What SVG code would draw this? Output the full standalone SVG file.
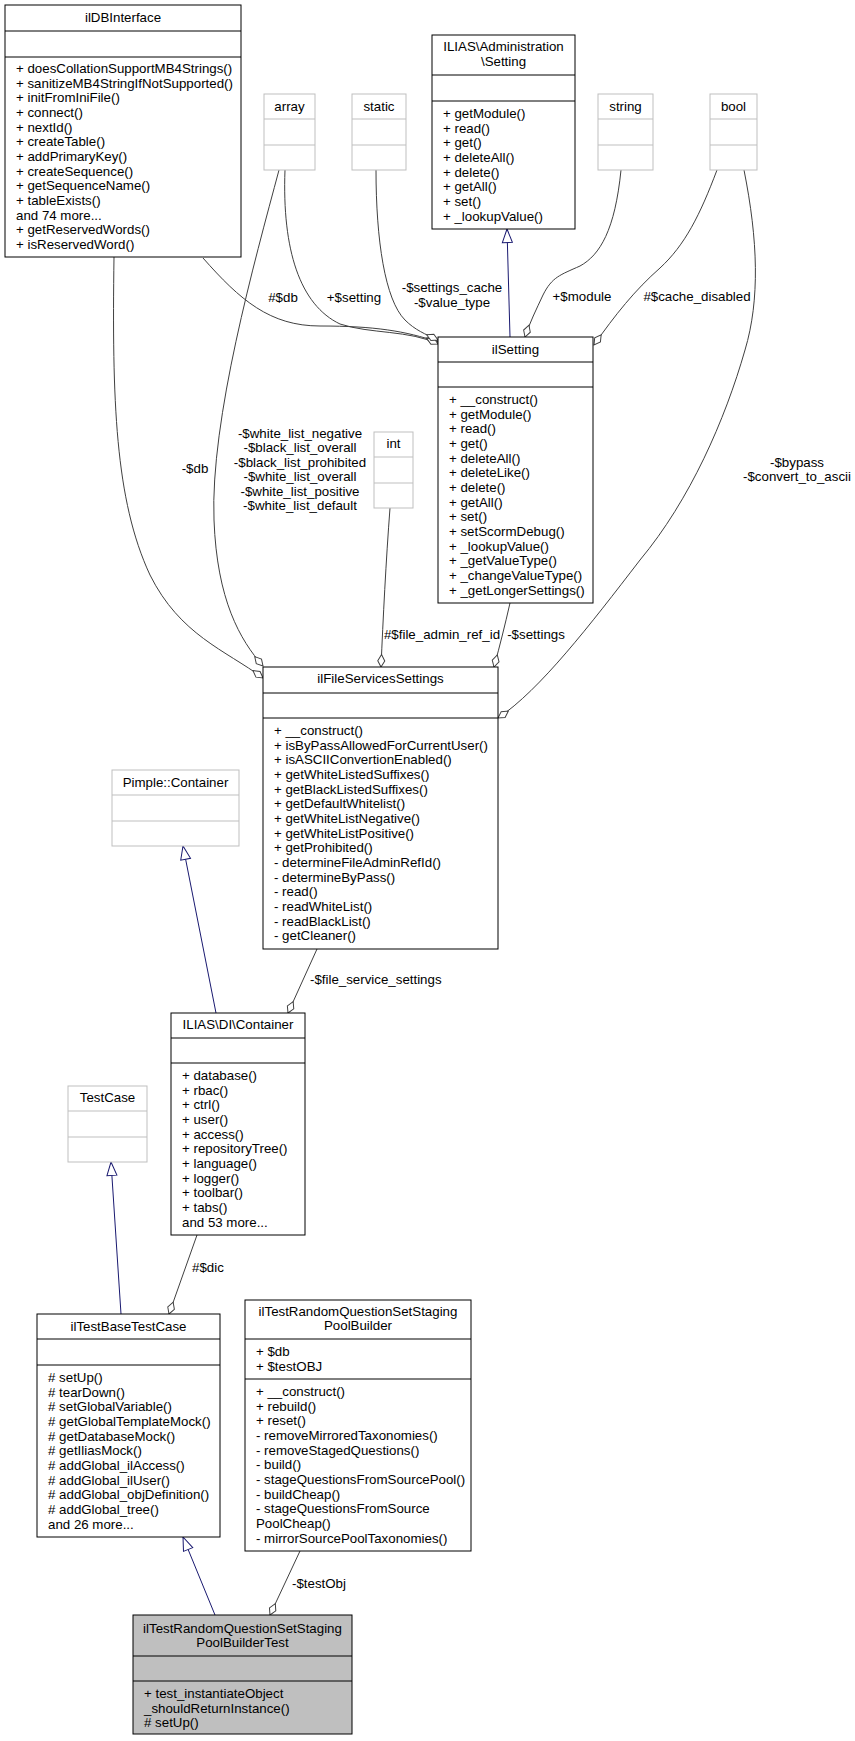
<svg xmlns="http://www.w3.org/2000/svg" width="855" height="1741" viewBox="0 0 855 1741">
<style>
text{font-family:"Liberation Sans",Arial,Helvetica,sans-serif;font-size:13.3px;fill:#000}
.c{text-anchor:middle}
.box{fill:#fff;stroke:#000;stroke-width:1}
.gbox{fill:#fff;stroke:#bfbfbf;stroke-width:1}
.cur{fill:#bfbfbf;stroke:#000;stroke-width:1}
.sep{stroke:#000;stroke-width:1}
.gsep{stroke:#bfbfbf;stroke-width:1}
.agg{fill:none;stroke:#404040;stroke-width:1;marker-end:url(#dia)}
.inh{fill:none;stroke:#191970;stroke-width:1;marker-end:url(#tri)}
</style>
<defs>
<marker id="dia" markerUnits="userSpaceOnUse" markerWidth="15" markerHeight="10" refX="13" refY="4.5" orient="auto" overflow="visible"><path d="M0.5,4.5 L6.8,1 L13,4.5 L6.8,8 Z" fill="#fff" stroke="#404040" stroke-width="1"/></marker>
<marker id="tri" markerUnits="userSpaceOnUse" markerWidth="16" markerHeight="12" refX="14" refY="6" orient="auto" overflow="visible"><path d="M0.5,1 L14,6 L0.5,11 Z" fill="#fff" stroke="#191970" stroke-width="1"/></marker>
</defs>
<rect width="855" height="1741" fill="#fff"/>

<g id="edges">
<path class="inh" d="M510,337 L507,229"/>
<path class="agg" d="M203,258 C240,300 270,326 320,326 C375,326 405,331 438,342"/>
<path class="agg" d="M285,170 C282,250 300,305 340,324 C370,334 410,330 438,344"/>
<path class="agg" d="M376,170 C376,240 385,300 405,320 C415,330 425,334 438,340"/>
<path class="agg" d="M621,170 C615,230 600,255 580,266 C560,275 552,277 543,295 C536,310 530,322 525,337"/>
<path class="agg" d="M717,170 C700,215 685,245 660,268 C635,290 615,315 594,345"/>
<path class="agg" d="M744,170 C758,240 760,300 745,350 C725,420 690,500 640,560 C590,625 540,690 498,718"/>
<path class="agg" d="M510,603 C505,625 500,645 494,667"/>
<path class="agg" d="M390,508 C386,560 383,620 381,667"/>
<path class="agg" d="M114,257 C112,400 115,500 150,575 C180,635 225,650 263,678"/>
<path class="agg" d="M279,170 C255,260 210,420 214,520 C217,600 240,640 263,666"/>
<path class="inh" d="M216,1013 L183,846"/>
<path class="agg" d="M317,949 L288,1013"/>
<path class="inh" d="M121,1314 L111,1162"/>
<path class="agg" d="M197,1235 L169,1314"/>
<path class="inh" d="M215,1615 L183,1537"/>
<path class="agg" d="M300,1551 L270,1615"/>
<text x="283" y="302" class="c">#$db</text>
<text x="354" y="302" class="c">+$setting</text>
<text x="452" y="292" class="c">-$settings_cache</text>
<text x="452" y="307" class="c">-$value_type</text>
<text x="582" y="301" class="c">+$module</text>
<text x="697" y="301" class="c">#$cache_disabled</text>
<text x="797" y="467" class="c">-$bypass</text>
<text x="797" y="481" class="c">-$convert_to_ascii</text>
<text x="195" y="473" class="c">-$db</text>
<text x="300" y="438" class="c">-$white_list_negative</text>
<text x="300" y="452" class="c">-$black_list_overall</text>
<text x="300" y="466.5" class="c">-$black_list_prohibited</text>
<text x="300" y="481" class="c">-$white_list_overall</text>
<text x="300" y="495.5" class="c">-$white_list_positive</text>
<text x="300" y="510" class="c">-$white_list_default</text>
<text x="442" y="639" class="c">#$file_admin_ref_id</text>
<text x="536" y="639" class="c">-$settings</text>
<text x="310" y="984">-$file_service_settings</text>
<text x="192" y="1272">#$dic</text>
<text x="292" y="1588">-$testObj</text>
</g>

<g id="ilDBInterface">
<rect class="box" x="5" y="5" width="236" height="252"/>
<line class="sep" x1="5" y1="31" x2="241" y2="31"/>
<line class="sep" x1="5" y1="57" x2="241" y2="57"/>
<text x="123" y="22" class="c">ilDBInterface</text>
<text x="16" y="73">+ doesCollationSupportMB4Strings()</text>
<text x="16" y="87.7">+ sanitizeMB4StringIfNotSupported()</text>
<text x="16" y="102.3">+ initFromIniFile()</text>
<text x="16" y="117">+ connect()</text>
<text x="16" y="131.7">+ nextId()</text>
<text x="16" y="146.3">+ createTable()</text>
<text x="16" y="161">+ addPrimaryKey()</text>
<text x="16" y="175.7">+ createSequence()</text>
<text x="16" y="190.3">+ getSequenceName()</text>
<text x="16" y="205">+ tableExists()</text>
<text x="16" y="219.7">and 74 more...</text>
<text x="16" y="234.3">+ getReservedWords()</text>
<text x="16" y="249">+ isReservedWord()</text>
</g>

<g id="array">
<rect class="gbox" x="264" y="94" width="51" height="76"/>
<line class="gsep" x1="264" y1="119" x2="315" y2="119"/>
<line class="gsep" x1="264" y1="145" x2="315" y2="145"/>
<text x="289.5" y="111" class="c">array</text>
</g>

<g id="static">
<rect class="gbox" x="352" y="94" width="54" height="76"/>
<line class="gsep" x1="352" y1="119" x2="406" y2="119"/>
<line class="gsep" x1="352" y1="145" x2="406" y2="145"/>
<text x="379" y="111" class="c">static</text>
</g>

<g id="AdministrationSetting">
<rect class="box" x="432" y="35" width="143" height="194"/>
<line class="sep" x1="432" y1="75" x2="575" y2="75"/>
<line class="sep" x1="432" y1="101" x2="575" y2="101"/>
<text x="503.5" y="51" class="c">ILIAS\Administration</text>
<text x="503.5" y="66" class="c">\Setting</text>
<text x="443" y="118">+ getModule()</text>
<text x="443" y="132.7">+ read()</text>
<text x="443" y="147.3">+ get()</text>
<text x="443" y="162">+ deleteAll()</text>
<text x="443" y="176.7">+ delete()</text>
<text x="443" y="191.3">+ getAll()</text>
<text x="443" y="206">+ set()</text>
<text x="443" y="220.7">+ _lookupValue()</text>
</g>

<g id="string">
<rect class="gbox" x="598" y="94" width="55" height="76"/>
<line class="gsep" x1="598" y1="119" x2="653" y2="119"/>
<line class="gsep" x1="598" y1="145" x2="653" y2="145"/>
<text x="625.5" y="111" class="c">string</text>
</g>

<g id="bool">
<rect class="gbox" x="710" y="94" width="47" height="76"/>
<line class="gsep" x1="710" y1="119" x2="757" y2="119"/>
<line class="gsep" x1="710" y1="145" x2="757" y2="145"/>
<text x="733.5" y="111" class="c">bool</text>
</g>

<g id="ilSetting">
<rect class="box" x="438" y="337" width="155" height="266"/>
<line class="sep" x1="438" y1="362" x2="593" y2="362"/>
<line class="sep" x1="438" y1="387" x2="593" y2="387"/>
<text x="515.5" y="354" class="c">ilSetting</text>
<text x="449" y="404">+ __construct()</text>
<text x="449" y="418.7">+ getModule()</text>
<text x="449" y="433.3">+ read()</text>
<text x="449" y="448">+ get()</text>
<text x="449" y="462.7">+ deleteAll()</text>
<text x="449" y="477.3">+ deleteLike()</text>
<text x="449" y="492">+ delete()</text>
<text x="449" y="506.7">+ getAll()</text>
<text x="449" y="521.3">+ set()</text>
<text x="449" y="536">+ setScormDebug()</text>
<text x="449" y="550.7">+ _lookupValue()</text>
<text x="449" y="565.3">+ _getValueType()</text>
<text x="449" y="580">+ _changeValueType()</text>
<text x="449" y="594.7">+ _getLongerSettings()</text>
</g>

<g id="int">
<rect class="gbox" x="374" y="432" width="39" height="76"/>
<line class="gsep" x1="374" y1="457" x2="413" y2="457"/>
<line class="gsep" x1="374" y1="483" x2="413" y2="483"/>
<text x="393.5" y="448" class="c">int</text>
</g>

<g id="ilFileServicesSettings">
<rect class="box" x="263" y="667" width="235" height="282"/>
<line class="sep" x1="263" y1="693" x2="498" y2="693"/>
<line class="sep" x1="263" y1="718" x2="498" y2="718"/>
<text x="380.5" y="683" class="c">ilFileServicesSettings</text>
<text x="274" y="735">+ __construct()</text>
<text x="274" y="749.7">+ isByPassAllowedForCurrentUser()</text>
<text x="274" y="764.3">+ isASCIIConvertionEnabled()</text>
<text x="274" y="779">+ getWhiteListedSuffixes()</text>
<text x="274" y="793.7">+ getBlackListedSuffixes()</text>
<text x="274" y="808.3">+ getDefaultWhitelist()</text>
<text x="274" y="823">+ getWhiteListNegative()</text>
<text x="274" y="837.7">+ getWhiteListPositive()</text>
<text x="274" y="852.3">+ getProhibited()</text>
<text x="274" y="867">- determineFileAdminRefId()</text>
<text x="274" y="881.7">- determineByPass()</text>
<text x="274" y="896.3">- read()</text>
<text x="274" y="911">- readWhiteList()</text>
<text x="274" y="925.7">- readBlackList()</text>
<text x="274" y="940.3">- getCleaner()</text>
</g>

<g id="PimpleContainer">
<rect class="gbox" x="112" y="770" width="127" height="76"/>
<line class="gsep" x1="112" y1="795" x2="239" y2="795"/>
<line class="gsep" x1="112" y1="821" x2="239" y2="821"/>
<text x="175.5" y="787" class="c">Pimple::Container</text>
</g>

<g id="DIContainer">
<rect class="box" x="171" y="1013" width="134" height="222"/>
<line class="sep" x1="171" y1="1038" x2="305" y2="1038"/>
<line class="sep" x1="171" y1="1063" x2="305" y2="1063"/>
<text x="238" y="1029" class="c">ILIAS\DI\Container</text>
<text x="182" y="1080">+ database()</text>
<text x="182" y="1094.7">+ rbac()</text>
<text x="182" y="1109.3">+ ctrl()</text>
<text x="182" y="1124">+ user()</text>
<text x="182" y="1138.7">+ access()</text>
<text x="182" y="1153.3">+ repositoryTree()</text>
<text x="182" y="1168">+ language()</text>
<text x="182" y="1182.7">+ logger()</text>
<text x="182" y="1197.3">+ toolbar()</text>
<text x="182" y="1212">+ tabs()</text>
<text x="182" y="1226.7">and 53 more...</text>
</g>

<g id="TestCase">
<rect class="gbox" x="68" y="1086" width="79" height="76"/>
<line class="gsep" x1="68" y1="1111" x2="147" y2="1111"/>
<line class="gsep" x1="68" y1="1137" x2="147" y2="1137"/>
<text x="107.5" y="1102" class="c">TestCase</text>
</g>

<g id="ilTestBaseTestCase">
<rect class="box" x="37" y="1314" width="183" height="223"/>
<line class="sep" x1="37" y1="1339" x2="220" y2="1339"/>
<line class="sep" x1="37" y1="1365" x2="220" y2="1365"/>
<text x="128.5" y="1331" class="c">ilTestBaseTestCase</text>
<text x="48" y="1382"># setUp()</text>
<text x="48" y="1396.7"># tearDown()</text>
<text x="48" y="1411.3"># setGlobalVariable()</text>
<text x="48" y="1426"># getGlobalTemplateMock()</text>
<text x="48" y="1440.7"># getDatabaseMock()</text>
<text x="48" y="1455.3"># getIliasMock()</text>
<text x="48" y="1470"># addGlobal_ilAccess()</text>
<text x="48" y="1484.7"># addGlobal_ilUser()</text>
<text x="48" y="1499.3"># addGlobal_objDefinition()</text>
<text x="48" y="1514"># addGlobal_tree()</text>
<text x="48" y="1528.7">and 26 more...</text>
</g>

<g id="PoolBuilder">
<rect class="box" x="245" y="1300" width="226" height="251"/>
<line class="sep" x1="245" y1="1339" x2="471" y2="1339"/>
<line class="sep" x1="245" y1="1379" x2="471" y2="1379"/>
<text x="358" y="1316" class="c">ilTestRandomQuestionSetStaging</text>
<text x="358" y="1330" class="c">PoolBuilder</text>
<text x="256" y="1356">+ $db</text>
<text x="256" y="1371">+ $testOBJ</text>
<text x="256" y="1396">+ __construct()</text>
<text x="256" y="1410.7">+ rebuild()</text>
<text x="256" y="1425.3">+ reset()</text>
<text x="256" y="1440">- removeMirroredTaxonomies()</text>
<text x="256" y="1454.7">- removeStagedQuestions()</text>
<text x="256" y="1469.3">- build()</text>
<text x="256" y="1484">- stageQuestionsFromSourcePool()</text>
<text x="256" y="1498.7">- buildCheap()</text>
<text x="256" y="1513.3">- stageQuestionsFromSource</text>
<text x="256" y="1528">PoolCheap()</text>
<text x="256" y="1542.7">- mirrorSourcePoolTaxonomies()</text>
</g>

<g id="PoolBuilderTest">
<rect class="cur" x="133" y="1615" width="219" height="119"/>
<line class="sep" x1="133" y1="1656" x2="352" y2="1656"/>
<line class="sep" x1="133" y1="1681" x2="352" y2="1681"/>
<text x="242.5" y="1633" class="c">ilTestRandomQuestionSetStaging</text>
<text x="242.5" y="1647" class="c">PoolBuilderTest</text>
<text x="144" y="1698">+ test_instantiateObject</text>
<text x="144" y="1712.7">_shouldReturnInstance()</text>
<text x="144" y="1727.3"># setUp()</text>
</g>
</svg>
